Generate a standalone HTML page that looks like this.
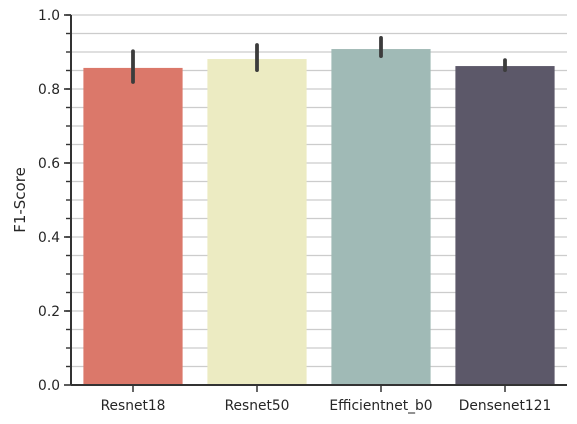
<!DOCTYPE html>
<html><head><meta charset="utf-8"><style>
body{margin:0;background:#fff;}
svg{display:block;font-family:"DejaVu Sans","Liberation Sans",sans-serif;}
</style></head><body>
<svg id="chart" width="577" height="424"></svg>
<script>
const categories=["Resnet18","Resnet50","Efficientnet_b0","Densenet121"];
const values=[0.857,0.881,0.908,0.862];
const errLow=[0.819,0.851,0.889,0.851];
const errHigh=[0.902,0.919,0.938,0.878];
const colors=["#db786a","#ecebc2","#a0bab6","#5c5869"];
const yTicks=[0,0.2,0.4,0.6,0.8,1.0];
const yTickLabels=["0.0","0.2","0.4","0.6","0.8","1.0"];
const NS="http://www.w3.org/2000/svg";
const svg=document.getElementById('chart');
const L=71,R=567,T=15,B=385;
const y=v=>B-(B-T)*v;
const band=(R-L)/categories.length;
const xc=i=>L+band*(i+0.5);
function mk(t,a,p){const e=document.createElementNS(NS,t);for(const k in a)e.setAttribute(k,a[k]);(p||svg).appendChild(e);return e;}
for(let k=1;k<=20;k++){const v=k*0.05;
 const g=mk('line',{x1:L,x2:R,y1:y(v),y2:y(v),stroke:'#cccccc','stroke-width':1.2});
 
 
 const mt=mk('line',{x1:L-5,x2:L,y1:y(v),y2:y(v),stroke:'#333','stroke-width':1.4});
 
 
}
categories.forEach((c,i)=>{
 const w=band*0.8;
 const b=mk('rect',{x:xc(i)-w/2,y:y(values[i]),width:w,height:B-y(values[i]),fill:colors[i]});
 
 
 const e=mk('line',{x1:xc(i),x2:xc(i),y1:y(errHigh[i]),y2:y(errLow[i]),stroke:'#3c3c3c','stroke-width':3.8,'stroke-linecap':'round'});
 
 
 const t=mk('line',{x1:xc(i),x2:xc(i),y1:B,y2:B+7,stroke:'#333','stroke-width':1.5});
 
 
 const l=mk('text',{x:xc(i),y:B+25,'text-anchor':'middle','font-size':13.8,fill:'#262626'});
 l.textContent=c;
 
 
});
yTicks.forEach((v,i)=>{
 const t=mk('line',{x1:L-7,x2:L,y1:y(v),y2:y(v),stroke:'#333','stroke-width':1.6});
 
 
 const l=mk('text',{x:L-11,y:y(v)+5,'text-anchor':'end','font-size':13.8,fill:'#262626'});
 l.textContent=yTickLabels[i];
 
 
});
const ax=mk('line',{x1:L,x2:L,y1:T,y2:B,stroke:'#333','stroke-width':2});


const bx=mk('line',{x1:L,x2:R,y1:B,y2:B,stroke:'#333','stroke-width':2});


const yt=mk('text',{x:0,y:0,'text-anchor':'middle','font-size':15,fill:'#262626',transform:'translate(25,'+((T+B)/2)+') rotate(-90)'});
yt.textContent='F1-Score';


</script>
</body></html>
